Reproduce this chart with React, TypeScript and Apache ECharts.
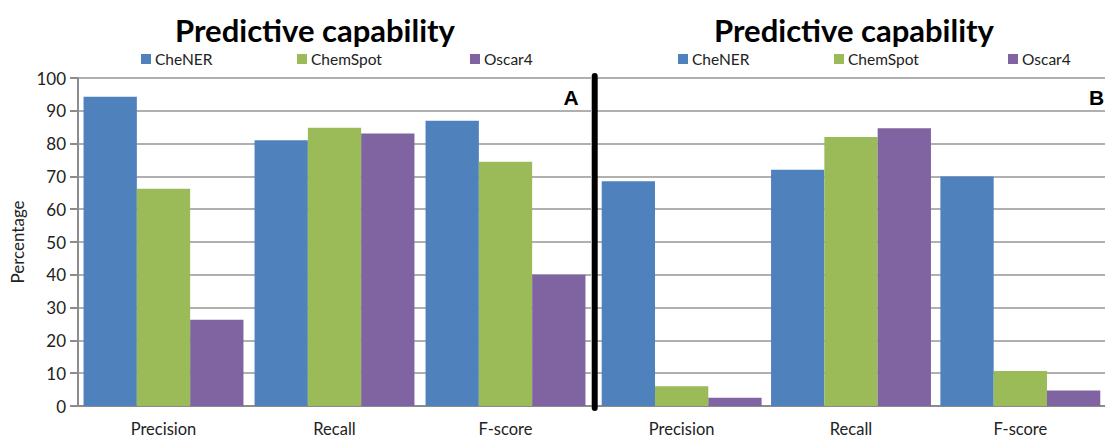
import React, { useEffect, useRef } from "react";
import * as echarts from "echarts";

const categories = ["Precision", "Recall", "F-score"];
const seriesNames = ["CheNER", "ChemSpot", "Oscar4"];
const colors = ["#4F81BD", "#9BBB59", "#8064A2"];

// Panel A
const cheNER_A = [94.3, 81.0, 87.0];
const chemSpot_A = [66.2, 84.8, 74.5];
const oscar4_A = [26.3, 83.1, 40.0];

// Panel B
const cheNER_B = [68.5, 72.0, 70.0];
const chemSpot_B = [6.0, 82.0, 10.7];
const oscar4_B = [2.5, 84.7, 4.7];

const yMin = 0;
const yMax = 100;
const yStep = 10;

const titleText = "Predictive capability";
const yAxisName = "Percentage";

export default function App() {
  const ref = useRef<HTMLDivElement>(null);

  useEffect(() => {
    if (!ref.current) return;
    const chart = echarts.init(ref.current, undefined, { renderer: "svg" });
    const font = "Lato, 'Open Sans', sans-serif";
    const gridTop = 78;
    const gridHeight = 328;

    const dataA = [cheNER_A, chemSpot_A, oscar4_A];
    const dataB = [cheNER_B, chemSpot_B, oscar4_B];

    const mkSeries = (data: number[][], idx: number) =>
      data.map((d, i) => ({
        type: "bar",
        name: seriesNames[i],
        xAxisIndex: idx,
        yAxisIndex: idx,
        data: d,
        barWidth: 53.3,
        barGap: "0%",
        itemStyle: { color: colors[i] },
      }));

    const legendLefts = [
      [141, 297, 470],
      [678, 834, 1008],
    ];
    const legends: any[] = [];
    legendLefts.forEach((row) =>
      row.forEach((x, i) =>
        legends.push({
          data: [seriesNames[i]],
          left: x,
          top: 51,
          icon: "rect",
          itemWidth: 10,
          itemHeight: 10,
          itemGap: 0,
          padding: 0,
          textStyle: { fontFamily: font, fontSize: 15.5, color: "#222", padding: [0, 0, 0, -1] },
        })
      )
    );

    const xAxisCommon = {
      type: "category",
      data: categories,
      axisLine: { show: true, lineStyle: { color: "#8c8c8c", width: 2 } },
      axisTick: { show: false },
      axisLabel: { fontFamily: font, fontSize: 16.5, lineHeight: 16, color: "#222", margin: 15 },
    };

    const titleStyle = { fontFamily: font, fontWeight: "bold", fontSize: 31, color: "#000" };

    chart.setOption({
      animation: false,
      backgroundColor: "#ffffff",
      title: [
        { text: titleText, left: 310, textAlign: "center", top: 9, textStyle: titleStyle },
        { text: titleText, left: 849, textAlign: "center", top: 9, textStyle: titleStyle },
      ],
      legend: legends,
      grid: [
        { left: 78, top: gridTop, width: 513, height: gridHeight },
        { left: 597, top: gridTop, width: 515, height: gridHeight },
      ],
      xAxis: [
        { ...xAxisCommon, gridIndex: 0 },
        { ...xAxisCommon, gridIndex: 1 },
      ],
      yAxis: [
        {
          type: "value",
          gridIndex: 0,
          min: yMin,
          max: yMax,
          interval: yStep,
          name: yAxisName,
          nameLocation: "middle",
          nameGap: 52,
          nameRotate: 90,
          nameTextStyle: { fontFamily: font, fontSize: 17, color: "#222" },
          axisLine: { show: true, lineStyle: { color: "#8c8c8c", width: 2 } },
          axisTick: { show: true, length: 8, lineStyle: { color: "#8c8c8c", width: 2 } },
          axisLabel: { fontFamily: font, fontSize: 17, color: "#222", margin: 12 },
          splitLine: { show: true, lineStyle: { color: "#b0b0b0", width: 2 } },
        },
        {
          type: "value",
          gridIndex: 1,
          min: yMin,
          max: yMax,
          interval: yStep,
          axisLine: { show: false },
          axisTick: { show: false },
          axisLabel: { show: false },
          splitLine: { show: true, lineStyle: { color: "#b0b0b0", width: 2 } },
        },
      ],
      series: [...mkSeries(dataA, 0), ...mkSeries(dataB, 1)],
      graphic: [
        {
          type: "line",
          shape: { x1: 594.7, y1: 76, x2: 594.7, y2: 408 },
          style: { stroke: "#000", lineWidth: 6, lineCap: "round" },
          z: 100,
        },
        {
          type: "text",
          x: 571,
          y: 97,
          style: {
            text: "A",
            fontFamily: "'Liberation Sans', Arial, sans-serif",
            fontWeight: "bold",
            fontSize: 21,
            fill: "#000",
            align: "center",
            verticalAlign: "middle",
          },
          z: 100,
        },
        {
          type: "text",
          x: 1089,
          y: 97,
          style: {
            text: "B",
            fontFamily: "'Liberation Sans', Arial, sans-serif",
            fontWeight: "bold",
            fontSize: 21,
            fill: "#000",
            align: "left",
            verticalAlign: "middle",
          },
          z: 100,
        },
      ],
    });

    return () => chart.dispose();
  }, []);

  return (
    <div
      ref={ref}
      style={{ position: "fixed", left: 0, top: 0, width: 1105, height: 439, background: "#fff" }}
    />
  );
}
